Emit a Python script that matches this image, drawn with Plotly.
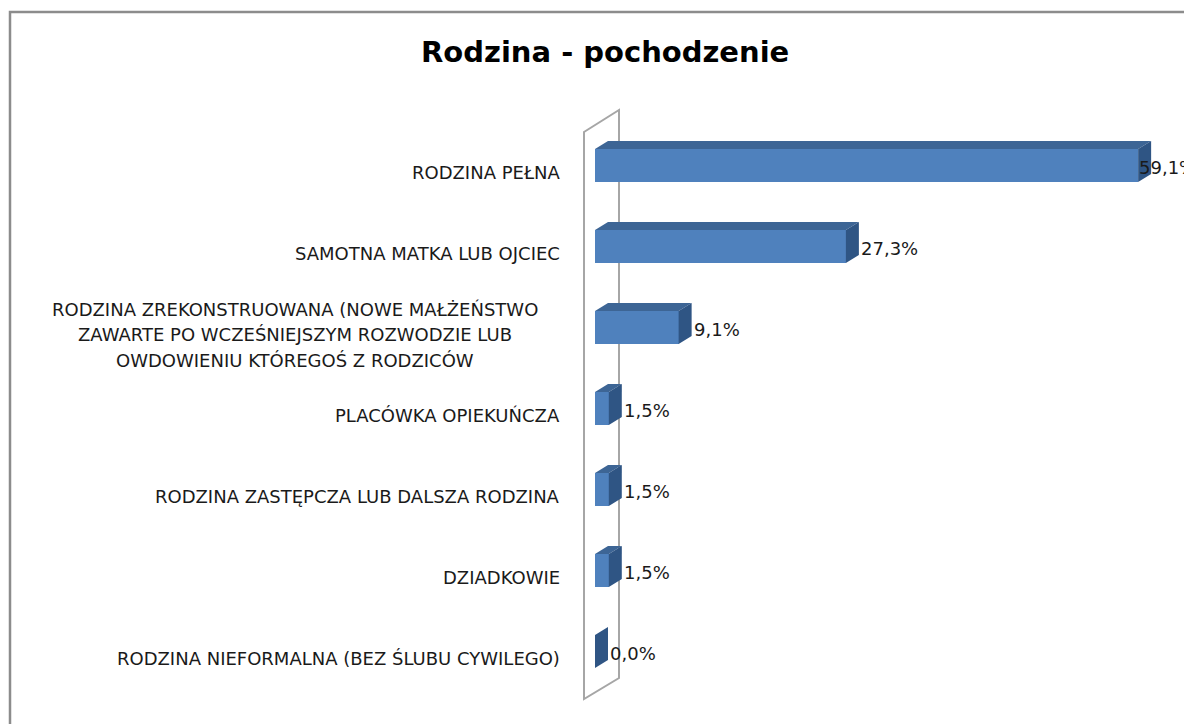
import plotly.graph_objects as go

# ---- data ----
categories = [
    "RODZINA PEŁNA",
    "SAMOTNA MATKA LUB OJCIEC",
    "RODZINA ZREKONSTRUOWANA (NOWE MAŁŻEŃSTWO<br>ZAWARTE PO WCZEŚNIEJSZYM ROZWODZIE LUB<br>OWDOWIENIU KTÓREGOŚ Z RODZICÓW",
    "PLACÓWKA OPIEKUŃCZA",
    "RODZINA ZASTĘPCZA LUB DALSZA RODZINA",
    "DZIADKOWIE",
    "RODZINA NIEFORMALNA (BEZ ŚLUBU CYWILEGO)",
]
values = [59.1, 27.3, 9.1, 1.5, 1.5, 1.5, 0.0]
value_labels = ["59,1%", "27,3%", "9,1%", "1,5%", "1,5%", "1,5%", "0,0%"]
title_text = "Rodzina - pochodzenie"

# ---- layout geometry (page pixels) ----
OFF = 8                      # default body margin of the page
FW, FH = 1192 - OFF, 724 - OFF
X0PX = 595.0      # pixel of value 0
PXPER = 9.19      # pixels per percentage point
Y0PX = 165.5      # pixel center of first category
STEP = 81.0       # pixels between categories
BAR_PX = 33.0     # front face height
DX_PX, DY_PX = 13.0, -8.0   # 3D depth offset

def px2x(px):
    return (px - X0PX) / PXPER

def py2y(py):
    return (py - Y0PX) / STEP

def pxp(px):
    return (px - OFF) / FW

def pyp(py):
    return 1 - (py - OFF) / FH

FRONT = "#4F81BD"
TOP = "#3D6595"
SIDE = "#2F5584"
FONT = "DejaVu Sans"
TXT = "#1A1A1A"

idx = list(range(len(categories)))
bw = BAR_PX / STEP
ddx = DX_PX / PXPER
ddy = DY_PX / STEP

fig = go.Figure()
fig.add_trace(go.Bar(
    x=values, y=idx, orientation="h", width=bw,
    marker=dict(color=FRONT, line=dict(width=0)),
    hoverinfo="skip", showlegend=False,
))

shapes = []
# wall (back plane) outline
wx0, wx1 = px2x(584), px2x(619)
wpath = (f"M{wx0},{py2y(132)} L{wx1},{py2y(110)} L{wx1},{py2y(678)} "
         f"L{wx0},{py2y(699)} Z")
shapes.append(dict(type="path", path=wpath, xref="x", yref="y", layer="below",
                   line=dict(color="#A6A6A6", width=2), fillcolor="rgba(0,0,0,0)"))

for i, v in zip(idx, values):
    top = i - bw / 2
    bot = i + bw / 2
    if v > 0:
        p = (f"M0,{top} L{v},{top} L{v+ddx},{top+ddy} L{ddx},{top+ddy} Z")
        shapes.append(dict(type="path", path=p, xref="x", yref="y", layer="above",
                           line=dict(width=0), fillcolor=TOP))
    p = (f"M{v},{top} L{v+ddx},{top+ddy} L{v+ddx},{bot+ddy} L{v},{bot} Z")
    shapes.append(dict(type="path", path=p, xref="x", yref="y", layer="above",
                       line=dict(width=0), fillcolor=SIDE))

# chart area border
shapes.append(dict(type="rect", xref="paper", yref="paper",
                   x0=pxp(10), x1=1.05, y0=-0.05, y1=pyp(12),
                   line=dict(color="#8C8C8C", width=2.5), fillcolor="rgba(0,0,0,0)",
                   layer="above"))

annotations = []
# title
annotations.append(dict(text=f"<b>{title_text}</b>", xref="paper", yref="paper",
                        x=pxp(605), y=pyp(52), xanchor="center", yanchor="middle",
                        showarrow=False, font=dict(family=FONT, size=29, color="#000000")))

# category labels
LBL = 18
for i, c in zip(idx, categories):
    lines = c.split("<br>")
    if len(lines) == 1:
        annotations.append(dict(text=c, x=px2x(562), y=i, xref="x", yref="y",
                                xanchor="right", yanchor="middle", yshift=-7,
                                showarrow=False,
                                font=dict(family=FONT, size=LBL, color=TXT)))
    else:
        n = len(lines)
        for k, ln in enumerate(lines):
            annotations.append(dict(text=ln, x=px2x(295), y=i, xref="x", yref="y",
                                    xanchor="center", yanchor="middle",
                                    yshift=-(7 + (k - (n - 1) / 2) * 25.5),
                                    showarrow=False,
                                    font=dict(family=FONT, size=LBL, color=TXT)))

# value labels
for i, v, t in zip(idx, values, value_labels):
    lx = min(X0PX + v * PXPER + 13, 1137)
    annotations.append(dict(text=t, x=px2x(lx), y=i, xref="x", yref="y",
                            xanchor="left", yanchor="middle", yshift=-2,
                            showarrow=False,
                            font=dict(family=FONT, size=18, color=TXT)))

fig.update_layout(
    width=FW, height=FH,
    margin=dict(l=0, r=0, t=0, b=0),
    paper_bgcolor="white", plot_bgcolor="white",
    xaxis=dict(range=[px2x(OFF), px2x(OFF + FW)], visible=False, fixedrange=True),
    yaxis=dict(range=[py2y(OFF + FH), py2y(OFF)], visible=False, fixedrange=True),
    shapes=shapes, annotations=annotations,
    showlegend=False, bargap=0,
)

fig.write_html("out.html")
